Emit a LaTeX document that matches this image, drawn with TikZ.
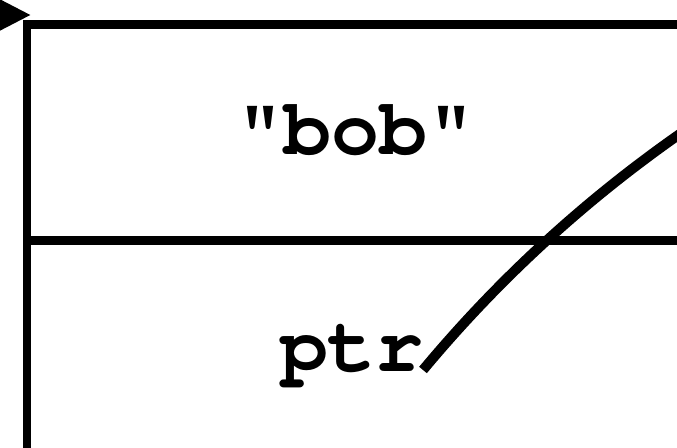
\documentclass[tikz,border=0pt]{standalone}
\usepackage[T1,TU]{fontenc}
\usetikzlibrary{arrows.meta}
\tikzset{cell/.style={line width=4.2pt},pointer/.style={line width=5pt},
 celltext/.style={font=\fontencoding{T1}\fontfamily{pcr}\fontseries{b}\fontsize{40}{42}\selectfont,anchor=base,inner sep=0pt}}

\begin{document}
\begin{tikzpicture}[x=0.5pt,y=-0.5pt]
\useasboundingbox (0,0) rectangle (677,448);
\clip (0,0) rectangle (677,448);
\draw[cell] (27,24.5) rectangle (760,520);
\draw[cell] (27,240.5)--(760,240.5);
\node[celltext] (name) at (356,155) {"bob"};
\node[celltext] (ptr) at (352,372) {ptr};
\coordinate (tail) at (423,370);
\coordinate (target) at (760,82);
\draw[pointer] (tail) .. controls (518.3,255.6) and (630.7,159.6) .. (target);
\coordinate (entry) at (-80,15);
\coordinate (corner) at (31,15);
\draw[pointer,-{Triangle[length=24pt,width=23pt]}] (entry)--(corner);
\end{tikzpicture}
\end{document}
